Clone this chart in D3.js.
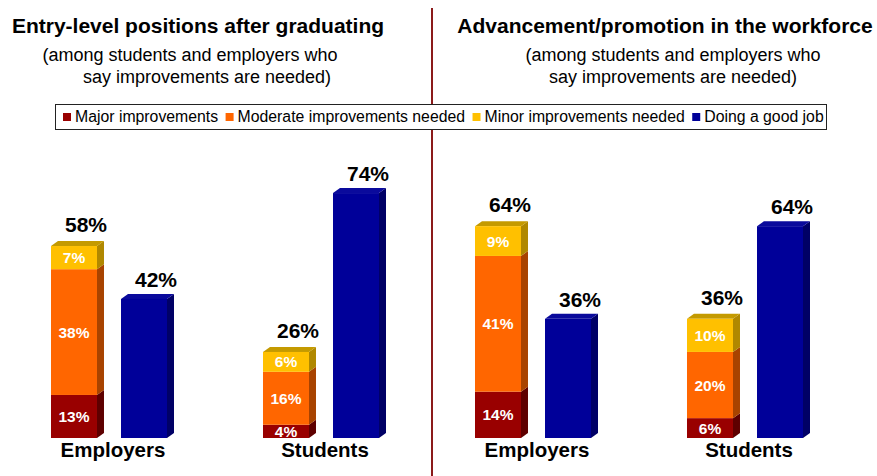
<!DOCTYPE html>
<html>
<head>
<meta charset="utf-8">
<script src="https://cdn.jsdelivr.net/npm/d3@7"></script>
<style>
  html, body { margin: 0; padding: 0; background: #fff; }
  svg { display: block; font-family: "Liberation Sans", Arial, sans-serif; }
</style>
</head>
<body>
<svg id="chart" width="877" height="476"></svg>
<script>
// Panel titles and subtitles
const panelTitles = ["Entry-level positions after graduating", "Advancement/promotion in the workforce"];
const subtitleLines = ["(among students and employers who", "say improvements are needed)"];
const categories = ["Employers", "Students"];
const seriesNames = ["Major improvements", "Moderate improvements needed", "Minor improvements needed", "Doing a good job"];

// Percentages per panel: [Employers, Students]
const major    = [[13, 4], [14, 6]];
const moderate = [[38, 16], [41, 20]];
const minor    = [[7, 6], [9, 10]];
const goodJob  = [[42, 74], [36, 64]];

// Face colours: front, side, top
const palette = [
  { front: "#990000", side: "#5e0000", top: "#7a0000" },
  { front: "#ff6600", side: "#a84300", top: "#c85000" },
  { front: "#ffc000", side: "#b08800", top: "#c49a00" },
  { front: "#000099", side: "#000066", top: "#0a0a9c" }
];

const svg = d3.select("#chart");
const depthX = 7, depthY = 5;

const panelScale = d3.scaleBand().domain(d3.range(panelTitles.length)).range([0, 848]);
const catScale = d3.scaleBand().domain(categories).range([3, 427]).paddingInner(0.4528).paddingOuter(0.2264);
const barScale = d3.scaleBand().domain(["improve", "good"]).range([0, catScale.bandwidth()]).paddingInner(0.343);
const y = d3.scaleLinear().domain([0, 100]).range([438, 107]);

// Divider between the two panels
svg.append("line")
  .attr("x1", 432).attr("x2", 432).attr("y1", 8).attr("y2", 476)
  .attr("stroke", "#8b1a1a").attr("stroke-width", 2);

// Titles
const titleCenters = [198, 665];
const subCenters = [[190, 207], [673, 673]];
panelTitles.forEach((t, i) => {
  svg.append("text").attr("x", titleCenters[i]).attr("y", 33)
    .attr("text-anchor", "middle").attr("font-size", 21).attr("font-weight", "bold")
    .attr("fill", "#000").text(t);
  subtitleLines.forEach((s, j) => {
    svg.append("text").attr("x", subCenters[i][j]).attr("y", 61 + j * 22)
      .attr("text-anchor", "middle").attr("font-size", 18)
      .attr("fill", "#000").text(s);
  });
});

// Legend
const legend = svg.append("g");
legend.append("rect").attr("x", 55.5).attr("y", 104.5).attr("width", 771).attr("height", 25)
  .attr("fill", "#fff").attr("stroke", "#222").attr("stroke-width", 1);
let lx = 63;
seriesNames.forEach((name, i) => {
  legend.append("rect").attr("x", lx).attr("y", 113).attr("width", 8).attr("height", 8)
    .attr("fill", palette[i].front);
  const t = legend.append("text").attr("x", lx + 12).attr("y", 122)
    .attr("font-size", 15.8).attr("fill", "#000").text(name);
  lx += 12 + t.node().getComputedTextLength() + 7.5;
});

// One 3D box segment
function box(g, x0, w, v0, v1, col, withTop) {
  const yt = y(v1), yb = y(v0), x1 = x0 + w;
  g.append("path")
    .attr("d", `M${x1},${yt}L${x1 + depthX},${yt - depthY}L${x1 + depthX},${yb - depthY}L${x1},${yb}Z`)
    .attr("fill", col.side);
  if (withTop) {
    g.append("path")
      .attr("d", `M${x0},${yt}L${x0 + depthX},${yt - depthY}L${x1 + depthX},${yt - depthY}L${x1},${yt}Z`)
      .attr("fill", col.top);
  }
  g.append("rect").attr("x", x0).attr("y", yt).attr("width", w).attr("height", yb - yt)
    .attr("fill", col.front);
}

panelTitles.forEach((_, p) => {
  const pg = svg.append("g").attr("transform", `translate(${panelScale(p)},0)`);
  categories.forEach((cat, c) => {
    const gx = catScale(cat);
    const bw = barScale.bandwidth();
    const stackVals = [major[p][c], moderate[p][c], minor[p][c]];
    const xs = gx + barScale("improve");
    let acc = 0;
    stackVals.forEach((v, s) => {
      box(pg, xs, bw, acc, acc + v, palette[s], s === stackVals.length - 1);
      pg.append("text")
        .attr("x", xs + bw / 2).attr("y", (y(acc) + y(acc + v)) / 2 + 5.5)
        .attr("text-anchor", "middle").attr("font-size", 15.5).attr("font-weight", "bold")
        .attr("fill", "#fff").text(v + "%");
      acc += v;
    });
    pg.append("text")
      .attr("x", xs + bw / 2 + 12).attr("y", y(acc) - 14)
      .attr("text-anchor", "middle").attr("font-size", 21).attr("font-weight", "bold")
      .attr("fill", "#000").text(acc + "%");

    const xg = gx + barScale("good");
    const gv = goodJob[p][c];
    box(pg, xg, bw, 0, gv, palette[3], true);
    pg.append("text")
      .attr("x", xg + bw / 2 + 12).attr("y", y(gv) - 12)
      .attr("text-anchor", "middle").attr("font-size", 21).attr("font-weight", "bold")
      .attr("fill", "#000").text(gv + "%");

    pg.append("text")
      .attr("x", gx + catScale.bandwidth() / 2 + 4).attr("y", 457)
      .attr("text-anchor", "middle").attr("font-size", 20.5).attr("font-weight", "bold")
      .attr("fill", "#000").text(cat);
  });
});
</script>
</body>
</html>
